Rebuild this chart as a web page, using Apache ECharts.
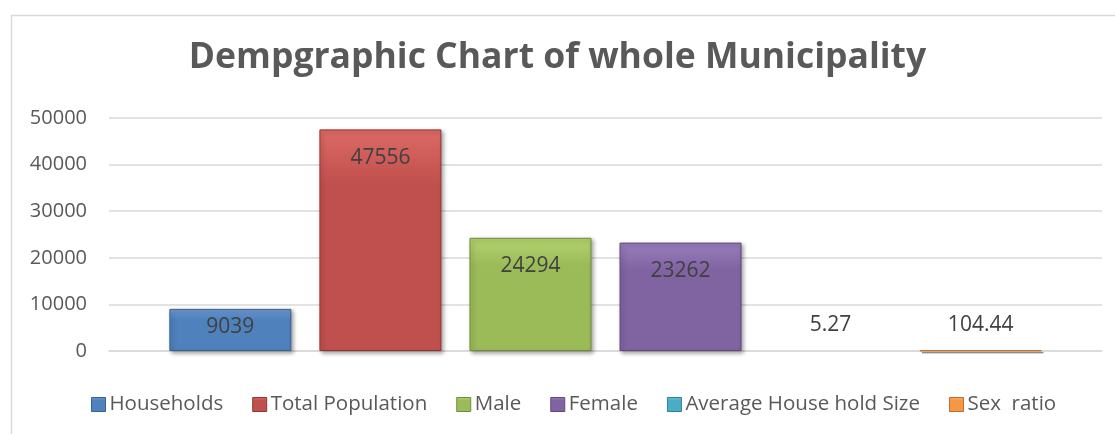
<!DOCTYPE html>
<html>
<head>
<meta charset="utf-8">
<script src="https://cdn.jsdelivr.net/npm/echarts@6/dist/echarts.min.js"></script>
<style>
  html, body { margin: 0; padding: 0; background: #fff; }
  #chart { width: 1115px; height: 434px; }
</style>
</head>
<body>
<div id="chart"></div>
<script>
const seriesNames = ["Households", "Total Population", "Male", "Female", "Average House hold Size", "Sex  ratio"];
const seriesValues = [9039, 47556, 24294, 23262, 5.27, 104.44];
const yTicks = [0, 10000, 20000, 30000, 40000, 50000];

const baseColors = ["#4F81BD", "#C0504D", "#9BBB59", "#8064A2", "#4BACC6", "#F79646"];
const lightColors = ["#6F9BD4", "#DC6A66", "#B3D36E", "#9A7DBD", "#6CC4DC", "#F9AE6A"];
const darkColors = ["#38618F", "#923532", "#728C3D", "#5E4979", "#338096", "#B96E2E"];
const labelDist = [8, 18, 18, 18, 15, 15];

const grad = (i) =>
  new echarts.graphic.LinearGradient(0, 0, 0, 1, [
    { offset: 0, color: lightColors[i] },
    { offset: 0.25, color: baseColors[i] },
    { offset: 1, color: baseColors[i] },
  ]);

const initChart = (target) => {
  const myChart = echarts.init(target);
  const series = seriesNames.map((name, i) => ({
    name: name,
    type: "bar",
    data: [seriesValues[i]],
    barWidth: 122,
    barGap: "23%",
    itemStyle: {
      color: grad(i),
      borderColor: i === 4 ? "transparent" : darkColors[i],
      borderWidth: i === 4 ? 0 : 1,
      shadowBlur: i >= 4 ? 0 : 4,
      shadowColor: "rgba(0,0,0,0.35)",
      shadowOffsetX: 2,
      shadowOffsetY: 2,
    },
    label: {
      show: true,
      position: i >= 4 ? "top" : "insideTop",
      distance: labelDist[i],
      color: "#404040",
      fontSize: 21,
      fontFamily: "Open Sans",
      formatter: () => String(seriesValues[i]),
    },
  }));

  const option = {
    animation: false,
    backgroundColor: "#fff",
    title: {
      text: "Dempgraphic Chart of whole Municipality",
      left: "center",
      top: 35,
      textStyle: {
        fontFamily: "Open Sans",
        fontWeight: "bold",
        fontSize: 35.5,
        color: "#595959",
      },
    },
    legend: {
      bottom: 14,
      left: 86,
      itemWidth: 14,
      itemHeight: 14,
      itemGap: 29,
      icon: "rect",
      textStyle: {
        fontFamily: "Open Sans",
        fontSize: 20.5,
        color: "#595959",
        padding: [0, 0, 0, -1],
      },
      data: seriesNames.map((n, i) => ({
        name: n,
        itemStyle: { color: grad(i), borderColor: darkColors[i], borderWidth: 1 },
      })),
    },
    grid: { left: 109, right: 13, top: 118, bottom: 83, containLabel: false },
    xAxis: {
      type: "category",
      data: [""],
      axisLine: { lineStyle: { color: "#d9d9d9", width: 1.5 } },
      axisTick: { show: false },
      axisLabel: { show: false },
    },
    yAxis: {
      type: "value",
      min: yTicks[0],
      max: yTicks[yTicks.length - 1],
      interval: 10000,
      axisLine: { show: false },
      axisTick: { show: false },
      splitLine: { lineStyle: { color: "#d9d9d9", width: 1.5 } },
      axisLabel: {
        margin: 22,
        color: "#595959",
        fontFamily: "Open Sans",
        fontSize: 20,
        formatter: (v) => String(v),
      },
    },
    graphic: [
      {
        type: "rect",
        left: 9,
        top: 13,
        shape: { width: 1130, height: 440 },
        style: { fill: "none", stroke: "#d9d9d9", lineWidth: 1.5 },
        silent: true,
      },
    ],
    series: series,
  };

  option && myChart.setOption(option);
  window.addEventListener("resize", () => myChart.resize());
  return myChart;
};

initChart(document.getElementById("chart"));
</script>
</body>
</html>
